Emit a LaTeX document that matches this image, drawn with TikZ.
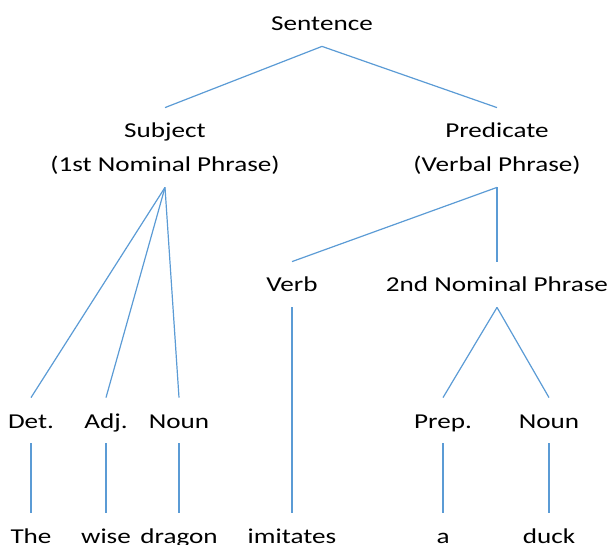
\documentclass[tikz,border=0pt]{standalone}
\usepackage{fontspec}
\setmainfont[FakeStretch=1.28]{Carlito}
\usetikzlibrary{positioning}
\definecolor{treeblue}{RGB}{91,155,213}
\newcommand{\treefont}{\fontsize{10.6}{17}\selectfont}

\begin{document}
\begin{tikzpicture}[x=0.5pt, y=-0.5pt, node distance=57.5pt,
		word/.style={font=\treefont, inner sep=0pt, text height=15pt, text depth=7.5pt, anchor=base},
		phrase/.style={word, align=center, text height=32pt},
		branch/.style={draw=treeblue, line width=0.6pt}]
		\useasboundingbox (0,0) rectangle (610,545);
		
		\node[word] (sent) at (322,31) {Sentence};
		
		\node[phrase] (subj) at (165,172) {Subject\\(1st Nominal Phrase)};
		\node[phrase] (pred) at (497,172) {Predicate\\(Verbal Phrase)};
		
		\node[word] (verb) at (292,292) {Verb};
		\node[word] (np2) at (497,292) {2nd Nominal Phrase};
		
		\node[word] (det) at (31,428) {Det.};
		\node[word] (adj) at (106,428) {Adj.};
		\node[word] (noun1) at (179,428) {Noun};
		\node[word] (prep) at (443,428) {Prep.};
		\node[word] (noun2) at (549,428) {Noun};
		
		% the words of the sentence
		\node[word, below of=det] (the) {The};
		\node[word, below of=adj] (wise) {wise};
		\node[word, below of=noun1] (dragon) {dragon};
		\node[word, below of=verb, yshift=-68pt] (imitates) {imitates};
		\node[word, below of=prep] (a) {a};
		\node[word, below of=noun2] (duck) {duck};
		
		\draw[branch] (sent.south) -- (subj.north);
		\draw[branch] (sent.south) -- (pred.north);
		
		\draw[branch] (subj.south) -- (det.north);
		\draw[branch] (subj.south) -- (adj.north);
		\draw[branch] (subj.south) -- (noun1.north);
		
		\draw[branch] (pred.south) -- (verb.north);
		\draw[branch] (pred.south) -- (np2.north);
		
		\draw[branch] (np2.south) -- (prep.north);
		\draw[branch] (np2.south) -- (noun2.north);
		
		\draw[branch] (det.south) -- (the.north);
		\draw[branch] (adj.south) -- (wise.north);
		\draw[branch] (noun1.south) -- (dragon.north);
		\draw[branch] (verb.south) -- (imitates.north);
		\draw[branch] (prep.south) -- (a.north);
		\draw[branch] (noun2.south) -- (duck.north);
	\end{tikzpicture}
\end{document}
